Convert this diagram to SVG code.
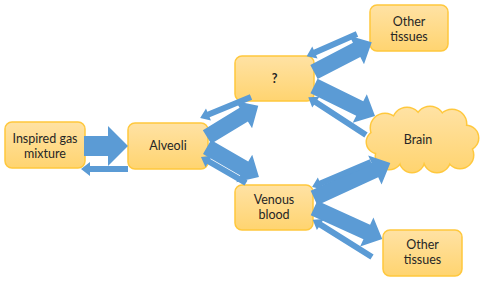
<svg xmlns="http://www.w3.org/2000/svg" width="482" height="281" viewBox="0 0 482 281">
<defs>
<linearGradient id="g" x1="0" y1="0" x2="0" y2="1">
<stop offset="0" stop-color="#FFE2A4"/>
<stop offset="1" stop-color="#FFD470"/>
</linearGradient>
<linearGradient id="gc" gradientUnits="userSpaceOnUse" x1="0" y1="107" x2="0" y2="172">
<stop offset="0" stop-color="#FFE2A4"/>
<stop offset="1" stop-color="#FFD470"/>
</linearGradient>
</defs>
<style>
.box{fill:url(#g);stroke:#FFC83D;stroke-width:1.5}
.cs{fill:none;stroke:#FFC83D;stroke-width:3}
.cf{fill:url(#gc);stroke:none}
.t{font-family:Lato,"Open Sans","Liberation Sans",sans-serif;font-size:12.5px;fill:#262626;text-anchor:middle}
.b{font-weight:bold}
.ar{fill:#5B9BD5}
</style>
<rect width="482" height="281" fill="#FFFFFF"/>
<g id="gas"><rect class="box" x="5" y="122" width="80" height="46" rx="7"/><text class="t" x="45" y="142.5">Inspired gas</text><text class="t" x="45" y="157.5">mixture</text></g>
<g id="alveoli"><rect class="box" x="128" y="123" width="80" height="46" rx="7"/><text class="t" x="168" y="150">Alveoli</text></g>
<g id="unknown"><rect class="box" x="235" y="56" width="79" height="45" rx="7"/><text class="t b" x="274.5" y="83">?</text></g>
<g id="other1"><rect class="box" x="370" y="5" width="78" height="46" rx="7"/><text class="t" x="409" y="26">Other</text><text class="t" x="409" y="41">tissues</text></g>
<g id="venous"><rect class="box" x="235" y="185" width="78" height="45" rx="7"/><text class="t" x="274" y="204">Venous</text><text class="t" x="274" y="219">blood</text></g>
<g id="other2"><rect class="box" x="383" y="230" width="79" height="46" rx="7"/><text class="t" x="422.5" y="249">Other</text><text class="t" x="422.5" y="264">tissues</text></g>
<g id="brain">
<g class="cs"><circle cx="385" cy="128" r="14"/><circle cx="407" cy="122" r="14"/><circle cx="430" cy="121" r="14"/><circle cx="452" cy="124" r="14"/><circle cx="466" cy="138" r="12"/><circle cx="460" cy="155" r="13"/><circle cx="437" cy="159" r="13"/><circle cx="412" cy="160" r="12"/><circle cx="389" cy="156" r="13"/><circle cx="378" cy="142" r="11"/></g>
<g class="cf"><circle cx="385" cy="128" r="14"/><circle cx="407" cy="122" r="14"/><circle cx="430" cy="121" r="14"/><circle cx="452" cy="124" r="14"/><circle cx="466" cy="138" r="12"/><circle cx="460" cy="155" r="13"/><circle cx="437" cy="159" r="13"/><circle cx="412" cy="160" r="12"/><circle cx="389" cy="156" r="13"/><circle cx="378" cy="142" r="11"/><ellipse cx="422" cy="140" rx="40" ry="22"/></g>
<text class="t" x="418" y="144">Brain</text>
</g>
<g id="connectors" class="ar">
<polygon points="84,136 108,136 108,126 128,146 108,166 108,156 84,156"/>
<polygon points="128,166 90,166 90,162 81,169 90,176 90,172 128,172"/>
<polygon transform="translate(207,137) rotate(-31.3)" points="0,-8 43,-8 43,-16 60,0 43,16 43,8 0,8"/>
<polygon transform="translate(251,97) rotate(157.6)" points="0,-3 46,-3 46,-6.5 55,0 46,6.5 46,3 0,3"/>
<polygon transform="translate(207,147) rotate(30)" points="0,-8 43,-8 43,-16 60,0 43,16 43,8 0,8"/>
<polygon transform="translate(246,183) rotate(-150)" points="0,-3 43,-3 43,-6.5 52,0 43,6.5 43,3 0,3"/>
<polygon transform="translate(314,72) rotate(-27.35)" points="0,-8 48,-8 48,-16 65,0 48,16 48,8 0,8"/>
<polygon transform="translate(357,34) rotate(156.25)" points="0,-3 46,-3 46,-6.5 55,0 46,6.5 46,3 0,3"/>
<polygon transform="translate(314,86) rotate(26.2)" points="0,-8 51,-8 51,-16 68,0 51,16 51,8 0,8"/>
<polygon transform="translate(366,135) rotate(-146.8)" points="0,-3 60,-3 60,-6.5 69,0 60,6.5 60,3 0,3"/>
<polygon transform="translate(314,198) rotate(-24.7)" points="0,-8 67,-8 67,-16 84,0 67,16 67,8 0,8"/>
<polygon transform="translate(371,162) rotate(157)" points="0,-3 55,-3 55,-6.5 64,0 55,6.5 55,3 0,3"/>
<polygon transform="translate(314,208) rotate(24.5)" points="0,-8 58,-8 58,-16 75,0 58,16 58,8 0,8"/>
<polygon transform="translate(372,257) rotate(-147.9)" points="0,-3 61,-3 61,-6.5 70,0 61,6.5 61,3 0,3"/>
</g>
</svg>
